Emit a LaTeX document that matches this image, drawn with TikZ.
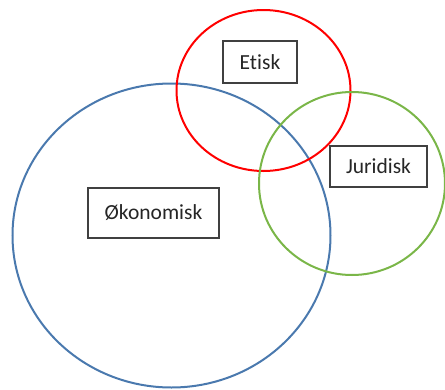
\documentclass[tikz,border=0pt]{standalone}
\usepackage{fontspec}
\setmainfont[Ligatures=NoCommon]{Carlito}
\usepackage{tikz}
\usetikzlibrary{shapes.geometric}

\definecolor{okoblue}{HTML}{4A79AE}
\definecolor{etiskred}{HTML}{FF0000}
\definecolor{jurgreen}{HTML}{7AB648}
\definecolor{boxgray}{HTML}{404040}

\tikzset{
	ring/.style={ellipse,draw=#1,line width=2pt,inner sep=0pt},
	label box/.style={rectangle,draw=boxgray,line width=1.2pt,fill=white,text=black!85,inner sep=0pt,font=\fontsize{21.5}{25}\selectfont}
}

\begin{document}
\begin{tikzpicture}[x=1pt,y=-1pt]
		\useasboundingbox (0,0) rectangle (445,389);
		% sirklene
		\node[ring=okoblue,minimum width=318pt,minimum height=304pt]	(oko)	at (171.5,235.5)	{};
		\node[ring=etiskred,minimum width=174pt,minimum height=161pt]	(eti)	at (263.5,90.5)		{};
		\node[ring=jurgreen,minimum width=186pt,minimum height=183pt]	(jur)	at (352,183.5)		{};
		
		% etiketter
		\node[label box,minimum width=74pt,minimum height=42pt]		(eti_t)	at (260,62)			{Etisk};
		\node[label box,minimum width=97pt,minimum height=41pt]		(jur_t)	at (378.5,166.5)	{Juridisk};
		\node[label box,minimum width=131pt,minimum height=50pt]	(oko_t)	at (153.5,213)		{Økonomisk};
	\end{tikzpicture}
\end{document}
